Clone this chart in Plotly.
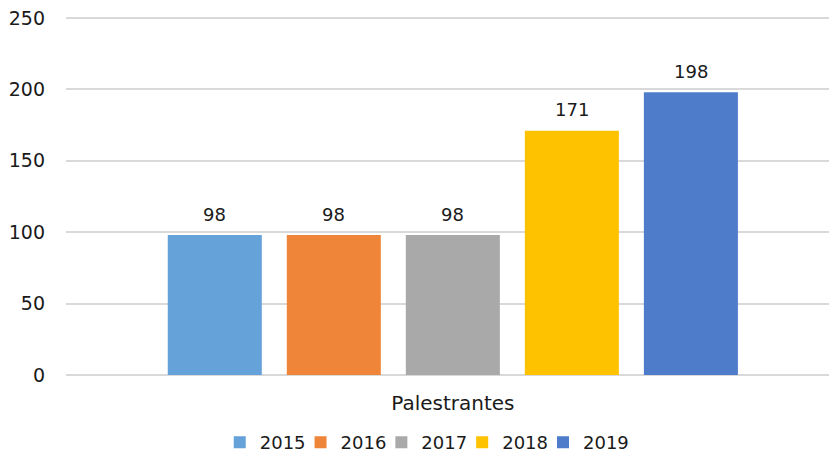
import plotly.graph_objects as go

categories = ["Palestrantes"]
years = ["2015", "2016", "2017", "2018", "2019"]
values = [98, 98, 98, 171, 198]
colors = ["#64A2D9", "#EE8539", "#A9A9A9", "#FFC200", "#4E7CCA"]
y_ticks = [0, 50, 100, 150, 200, 250]

FONT = "DejaVu Sans"
TXT = "#1a1a1a"
BARGAP = 0.22
GROUPGAP = 0.21

fig = go.Figure()
for yr, v, c in zip(years, values, colors):
    fig.add_trace(go.Bar(
        name=yr, x=categories, y=[v], marker=dict(color=c, line=dict(width=0)),
    ))

# value labels above each bar, positioned from the bar's index in the group
n = len(years)
slot = (1 - BARGAP) / n
for i, v in enumerate(values):
    fig.add_annotation(
        x=(i - (n - 1) / 2) * slot, y=v, xref="x", yref="y",
        text=str(v), showarrow=False, yanchor="middle", yshift=21,
        font=dict(family=FONT, size=18, color=TXT),
    )

fig.update_layout(
    width=829, height=457,
    margin=dict(l=66, r=0, t=16, b=82, autoexpand=False),
    paper_bgcolor="white", plot_bgcolor="white",
    barmode="group", bargap=BARGAP, bargroupgap=GROUPGAP,
    font=dict(family=FONT, size=18, color=TXT),
    showlegend=True,
    legend=dict(orientation="h", x=0.48, xanchor="center", y=-0.188, yanchor="middle",
                font=dict(family=FONT, size=18, color=TXT), traceorder="normal",
                indentation=-10),
    xaxis=dict(range=[-0.507, 0.493], showgrid=False, showline=False, ticks="",
               automargin=False, ticklabelstandoff=14,
               tickfont=dict(family=FONT, size=20, color=TXT)),
    yaxis=dict(range=[0, 251.4], tickvals=y_ticks, showgrid=True, gridcolor="#D9D9D9", gridwidth=2,
               zeroline=True, zerolinecolor="#D9D9D9", zerolinewidth=2, showline=False,
               ticks="", ticklabelstandoff=20, automargin=False,
               tickfont=dict(family=FONT, size=19, color=TXT)),
)

fig.write_html(
    "out.html",
    config={"displayModeBar": False},
    post_script="document.body.style.margin='0';document.body.style.overflow='hidden';",
)
